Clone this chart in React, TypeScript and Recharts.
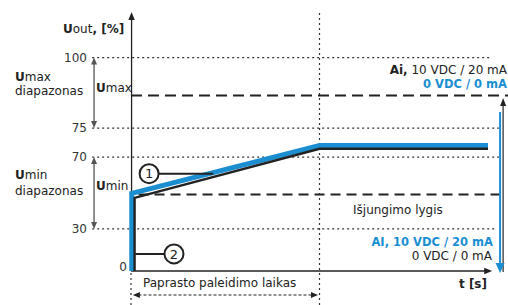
import React from 'react';
import {
  ComposedChart,
  Line,
  XAxis,
  YAxis,
  ReferenceLine,
  ReferenceDot,
  Customized,
} from 'recharts';

// schematic levels (the original diagram is not to scale)
const yTickPos = [0, 19.7, 53.4, 67.0, 100];
const yTickLabels = ['0', '30', '70', '75', '100'];
const umaxLevel = 82.3;
const uminLevel = 35.9;
const startupEnd = 50;

// output curves: t (time units), u (schematic %)
const blueSeries = [
  { t: 0.2, u: 0 },
  { t: 0.2, u: 36.4 },
  { t: startupEnd, u: 58.8 },
  { t: 94.7, u: 58.8 },
];
const blackSeries = [
  { t: 0.95, u: 0 },
  { t: 0.95, u: 34.3 },
  { t: startupEnd, u: 57.3 },
  { t: 94.7, u: 57.3 },
];

const BLUE = '#1b8ed2';
const INK = '#222';
const DOT = '2 3';

type Head = { l: number; w: number };

const arrowShape =
  (color: string, width: number, head: Head, both = false, dash?: string) =>
  (p: any) => {
    const { x1, y1, x2, y2 } = p;
    const dx = x2 - x1;
    const dy = y2 - y1;
    const len = Math.hypot(dx, dy) || 1;
    const ux = dx / len;
    const uy = dy / len;
    const nx = -uy;
    const ny = ux;
    const tri = (tx: number, ty: number, sx: number, sy: number) =>
      `${tx},${ty} ${tx - sx * head.l + nx * head.w},${ty - sy * head.l + ny * head.w} ${
        tx - sx * head.l - nx * head.w
      },${ty - sy * head.l - ny * head.w}`;
    const sx1 = both ? x1 + ux * head.l * 0.8 : x1;
    const sy1 = both ? y1 + uy * head.l * 0.8 : y1;
    return (
      <g>
        <line
          x1={sx1}
          y1={sy1}
          x2={x2 - ux * head.l * 0.8}
          y2={y2 - uy * head.l * 0.8}
          stroke={color}
          strokeWidth={width}
          strokeDasharray={dash}
        />
        <polygon points={tri(x2, y2, ux, uy)} fill={color} />
        {both && <polygon points={tri(x1, y1, -ux, -uy)} fill={color} />}
      </g>
    );
  };

const YTick = (props: any) => {
  const { y, payload } = props;
  const i = yTickPos.indexOf(payload.value);
  const zero = payload.value === 0;
  return (
    <text
      x={zero ? 127 : 87}
      y={zero ? y : y + 4}
      textAnchor="end"
      fontSize={12}
      fill="#333"
    >
      {yTickLabels[i]}
    </text>
  );
};

const Annotations = () => (
  <g fontFamily="DejaVu Sans" fill={INK}>
    <text x={63} y={33} fontSize={12}>
      <tspan fontWeight="bold">U</tspan>out<tspan fontWeight="bold">, [%]</tspan>
    </text>
    <text x={15} y={81} fontSize={12}>
      <tspan fontWeight="bold">U</tspan>max
    </text>
    <text x={15} y={95} fontSize={12}>diapazonas</text>
    <text x={96} y={92} fontSize={12}>
      <tspan fontWeight="bold">U</tspan>max
    </text>
    <text x={15} y={179} fontSize={12}>
      <tspan fontWeight="bold">U</tspan>min
    </text>
    <text x={15} y={195} fontSize={12}>diapazonas</text>
    <text x={96} y={190} fontSize={12}>
      <tspan fontWeight="bold">U</tspan>min
    </text>
    <text x={507} y={74} fontSize={12} textAnchor="end">
      <tspan fontWeight="bold">Ai,</tspan> 10 VDC / 20 mA
    </text>
    <text x={507} y={88} fontSize={11.5} textAnchor="end" fontWeight="bold" fill={BLUE}>
      0 VDC / 0 mA
    </text>
    <text x={353} y={214} fontSize={12}>Išjungimo lygis</text>
    <text x={493} y={245.5} fontSize={11.5} textAnchor="end" fontWeight="bold" fill={BLUE}>
      AI, 10 VDC / 20 mA
    </text>
    <text x={492} y={259.5} fontSize={12} textAnchor="end">
      0 VDC / 0 mA
    </text>
    <text x={487} y={288} fontSize={12} textAnchor="end" fontWeight="bold">
      t [s]
    </text>
    <text x={143} y={287} fontSize={12}>Paprasto paleidimo laikas</text>
  </g>
);

const dottedEnds: [number, number][] = [
  [100, 95.2],
  [67.0, 97.6],
  [53.4, 97.6],
  [19.7, 97.1],
];

export default function App() {
  return (
    <div
      style={{
        position: 'absolute',
        left: 0,
        top: 0,
        width: 508,
        height: 305,
        background: '#fff',
        fontFamily: 'DejaVu Sans',
      }}
    >
      <ComposedChart width={508} height={305} margin={{ top: 0, right: 0, bottom: 34, left: 0 }}>
        <XAxis type="number" dataKey="t" domain={[0, 100]} hide />
        <YAxis
          type="number"
          domain={[0, 127]}
          ticks={yTickPos}
          interval={0}
          width={131}
          axisLine={false}
          tickLine={false}
          tick={<YTick />}
        />

        {/* dotted guide lines */}
        {dottedEnds.map(([u, end]) => (
          <ReferenceLine
            key={u}
            segment={[
              { x: -10.3, y: u },
              { x: end, y: u },
            ]}
            stroke="#333"
            strokeWidth={1.2}
            strokeDasharray={DOT}
            ifOverflow="visible"
          />
        ))}
        <ReferenceLine
          segment={[
            { x: startupEnd, y: -15.9 },
            { x: startupEnd, y: 121.4 },
          ]}
          stroke="#333"
          strokeWidth={1.2}
          strokeDasharray={DOT}
          ifOverflow="visible"
        />
        <ReferenceLine
          segment={[
            { x: 0, y: -15.9 },
            { x: 0, y: 0 },
          ]}
          stroke="#333"
          strokeWidth={1.2}
          strokeDasharray={DOT}
          ifOverflow="visible"
        />

        {/* dashed levels */}
        <ReferenceLine
          segment={[
            { x: 0, y: umaxLevel },
            { x: 100, y: umaxLevel },
          ]}
          stroke={INK}
          strokeWidth={2}
          strokeDasharray="11 6"
          ifOverflow="visible"
        />
        <ReferenceLine
          segment={[
            { x: 2, y: uminLevel },
            { x: 99.3, y: uminLevel },
          ]}
          stroke={INK}
          strokeWidth={2}
          strokeDasharray="10 6"
          ifOverflow="visible"
        />

        {/* axes with arrows */}
        <ReferenceLine
          segment={[
            { x: 0.15, y: 0 },
            { x: 0.15, y: 121.4 },
          ]}
          shape={arrowShape(INK, 1.3, { l: 8, w: 3.2 })}
          ifOverflow="visible"
        />
        <ReferenceLine
          segment={[
            { x: 0, y: 0 },
            { x: 95.8, y: 0 },
          ]}
          shape={arrowShape(INK, 1.3, { l: 8, w: 3.2 })}
          ifOverflow="visible"
        />

        {/* range arrows on the left */}
        <ReferenceLine
          segment={[
            { x: -9.8, y: 100 },
            { x: -9.8, y: 67.0 },
          ]}
          shape={arrowShape('#555', 1.3, { l: 7, w: 3 }, true)}
          ifOverflow="visible"
        />
        <ReferenceLine
          segment={[
            { x: -9.8, y: 53.4 },
            { x: -9.8, y: 19.7 },
          ]}
          shape={arrowShape('#555', 1.3, { l: 7, w: 3 }, true)}
          ifOverflow="visible"
        />

        {/* startup time arrow */}
        <ReferenceLine
          segment={[
            { x: 0.5, y: -11.25 },
            { x: 49.6, y: -11.25 },
          ]}
          shape={arrowShape(INK, 1.2, { l: 7, w: 3 }, true, '3 2')}
          ifOverflow="visible"
        />

        {/* right side arrows */}
        <ReferenceLine
          segment={[
            { x: 98.7, y: -0.5 },
            { x: 98.7, y: 81.1 },
          ]}
          shape={arrowShape(INK, 1.2, { l: 8, w: 3 })}
          ifOverflow="visible"
        />
        <ReferenceLine
          segment={[
            { x: 97.9, y: 74.5 },
            { x: 97.9, y: -0.9 },
          ]}
          shape={arrowShape(BLUE, 2, { l: 10, w: 4.5 })}
          ifOverflow="visible"
        />

        <Line
          data={blueSeries}
          dataKey="u"
          type="linear"
          stroke={BLUE}
          strokeWidth={5}
          strokeLinejoin="miter"
          dot={false}
          activeDot={false}
          isAnimationActive={false}
        />
        <Line
          data={blackSeries}
          dataKey="u"
          type="linear"
          stroke={INK}
          strokeWidth={2.4}
          strokeLinejoin="miter"
          dot={false}
          activeDot={false}
          isAnimationActive={false}
        />

        {/* callouts */}
        <ReferenceLine
          segment={[
            { x: 4.8, y: 45.6 },
            { x: 21.8, y: 45.6 },
          ]}
          stroke={INK}
          strokeWidth={2}
          ifOverflow="visible"
        />
        <ReferenceLine
          segment={[
            { x: 1.1, y: 8.0 },
            { x: 11.4, y: 8.0 },
          ]}
          stroke={INK}
          strokeWidth={2}
          ifOverflow="visible"
        />
        <ReferenceDot
          x={4.8}
          y={45.6}
          r={9.5}
          fill="#fff"
          stroke={INK}
          strokeWidth={2}
          ifOverflow="visible"
          label={{ value: '1', position: 'center', fontSize: 13, fill: INK }}
        />
        <ReferenceDot
          x={11.4}
          y={8.0}
          r={9.5}
          fill="#fff"
          stroke={INK}
          strokeWidth={2}
          ifOverflow="visible"
          label={{ value: '2', position: 'center', fontSize: 13, fill: INK }}
        />

        <Customized component={Annotations} />
      </ComposedChart>
    </div>
  );
}
